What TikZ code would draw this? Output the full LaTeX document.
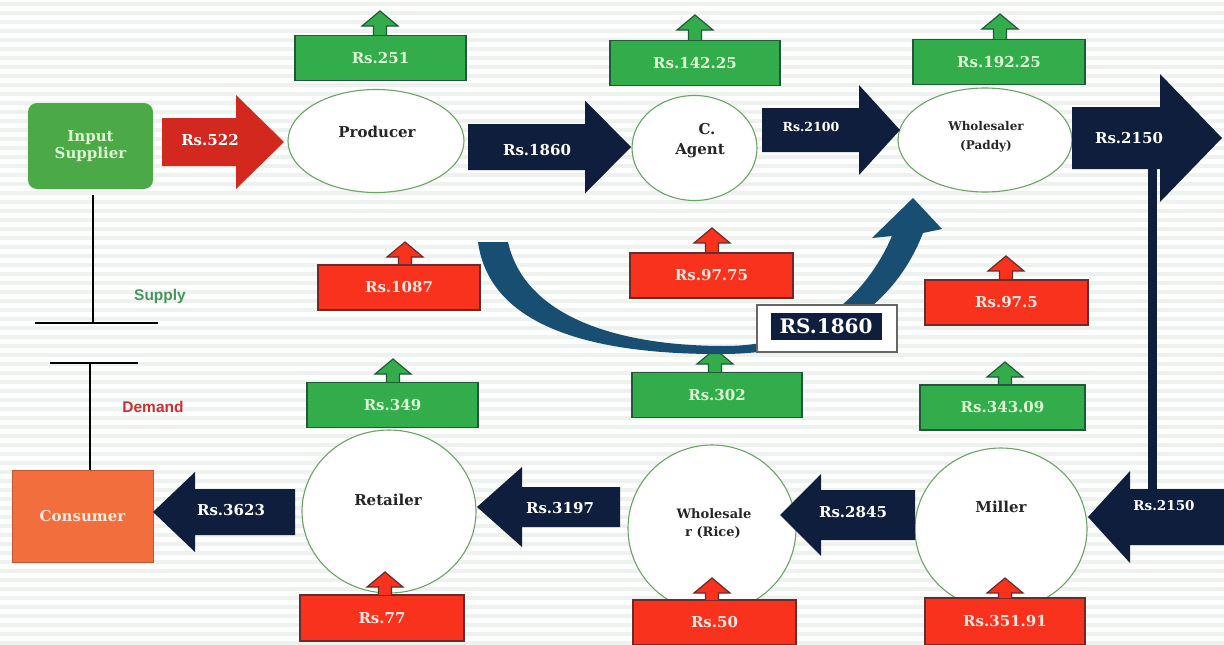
\documentclass[tikz,border=0pt]{standalone}
\usepackage{fontspec}
\setmainfont{DejaVu Serif}
\newfontfamily\labelsans{Liberation Sans}
\usetikzlibrary{shapes.geometric}

\definecolor{navy}{HTML}{0E1E3C}
\definecolor{curveblue}{HTML}{194E73}
\definecolor{boxgreen}{HTML}{33AD4C}
\definecolor{boxgreenline}{HTML}{22583A}
\definecolor{boxred}{HTML}{F8321C}
\definecolor{boxredline}{HTML}{6A2B2B}
\definecolor{supgreen}{HTML}{4BA948}
\definecolor{arrred}{HTML}{D2281E}
\definecolor{consorange}{HTML}{F26E3C}
\definecolor{ringgreen}{HTML}{6AA464}
\definecolor{gtext}{HTML}{DDF6D2}
\definecolor{rtext}{HTML}{FFE9E0}
\definecolor{stripe}{HTML}{EDF2EE}
\definecolor{supplytext}{HTML}{46965A}
\definecolor{demandtext}{HTML}{C83232}

\tikzset{
  lbl/.style={font=\fontsize{15}{17}\selectfont\bfseries, inner sep=0pt, align=center},
  smalllbl/.style={font=\fontsize{12.5}{15}\selectfont\bfseries, inner sep=0pt, align=center},
  gbox/.style={rectangle, fill=boxgreen, draw=boxgreenline, line width=1.6pt,
    minimum width=170pt, minimum height=45pt, lbl, text=gtext},
  rbox/.style={rectangle, fill=boxred, draw=boxredline, line width=1.6pt,
    minimum width=162pt, minimum height=45pt, lbl, text=rtext},
  actor/.style={ellipse, fill=white, draw=ringgreen, line width=1.1pt, inner sep=0pt},
  arrowtext/.style={lbl, text=white},
  link/.style={draw=black, line width=2pt},
}

% block arrow: tail x, head-base x, tip x, centre y, shaft half, head half, colour
\newcommand\flowarrow[7]{%
  \fill[#7] (#1,#4-#5) -- (#2,#4-#5) -- (#2,#4-#6) -- (#3,#4)
    -- (#2,#4+#6) -- (#2,#4+#5) -- (#1,#4+#5) -- cycle;}
% small upward marker: x, base y, tip y, fill, outline
\newcommand\upmark[5]{%
  \filldraw[fill=#4, draw=#5, line width=1.2pt, line join=miter]
    (#1-6.5,#2) -- (#1-6.5,#3+15) -- (#1-18,#3+15) -- (#1,#3)
    -- (#1+18,#3+15) -- (#1+6.5,#3+15) -- (#1+6.5,#2);}

\begin{document}
\begin{tikzpicture}[x=1pt,y=-1pt]
\useasboundingbox (0,0) rectangle (1224,645);
% striped backdrop
\fill[white] (0,0) rectangle (1224,645);
\foreach \yy in {4,13,...,645} \draw[stripe, line width=4pt] (0,\yy) -- (1224,\yy);

% supply / demand symbol
\coordinate (s1) at (93,195);
\coordinate (s2) at (93,323);
\coordinate (s3) at (35,323);
\coordinate (s4) at (158,323);
\coordinate (d1) at (50,363);
\coordinate (d2) at (138,363);
\coordinate (d3) at (90,363);
\coordinate (d4) at (90,470);
\draw[link] (s1) -- (s2);
\draw[link] (s3) -- (s4);
\draw[link] (d1) -- (d2);
\draw[link] (d3) -- (d4);
\node[font=\labelsans\fontsize{15.5}{17}\selectfont\bfseries, text=supplytext] (supply) at (160,296) {Supply};
\node[font=\labelsans\fontsize{15.5}{17}\selectfont\bfseries, text=demandtext] (demand) at (153,407) {Demand};

% end points
\node[rectangle, rounded corners=9pt, fill=supgreen, minimum width=125pt, minimum height=86pt,
  lbl, text=gtext] (inp) at (90.5,146) {Input\\Supplier};
\node[rectangle, fill=consorange, draw=consorange!80!black, line width=0.8pt,
  minimum width=141pt, minimum height=92pt, lbl, text=rtext] (cons) at (82.5,516) {Consumer};

% market actors
\node[actor, minimum width=176pt, minimum height=103pt] (prod) at (376,141) {};
\node[actor, minimum width=125pt, minimum height=105pt] (agent) at (694.5,148) {};
\node[actor, minimum width=174pt, minimum height=104pt] (wpad) at (985,140) {};
\node[actor, minimum width=172pt, minimum height=162pt] (mill) at (1001,529) {};
\node[actor, minimum width=168pt, minimum height=167pt] (wric) at (712,528.5) {};
\node[actor, minimum width=174pt, minimum height=163pt] (ret) at (389,511.5) {};

\node[lbl, text=black!85] at (377,132) {Producer};
\node[lbl, text=black!85] at (707,129) {C.};
\node[lbl, text=black!85] at (700,151) {Agent};
\node[smalllbl, text=black!85, font=\fontsize{12}{14.5}\selectfont\bfseries] at (986,126) {Wholesaler};
\node[smalllbl, text=black!85, font=\fontsize{12}{14.5}\selectfont\bfseries] at (986,146) {(Paddy)};
\node[lbl, text=black!85] at (1001,507) {Miller};
\node[smalllbl, text=black!85, font=\fontsize{13}{15}\selectfont\bfseries] at (714,514) {Wholesale};
\node[smalllbl, text=black!85, font=\fontsize{13}{15}\selectfont\bfseries] at (713,533) {r (Rice)};
\node[lbl, text=black!85] at (388,500) {Retailer};

% margin boxes above the actors
\upmark{380}{37}{11}{boxgreen}{boxgreenline}
\node[gbox, minimum width=171pt] (m1) at (380.5,58) {Rs.251};
\upmark{695}{41}{15}{boxgreen}{boxgreenline}
\node[gbox] (m2) at (695,63) {Rs.142.25};
\upmark{1000}{40}{14}{boxgreen}{boxgreenline}
\node[gbox, minimum width=172pt] (m3) at (999,62) {Rs.192.25};
\upmark{1005}{385}{362}{boxgreen}{boxgreenline}
\node[gbox, minimum width=165pt] (m4) at (1002.5,407.5) {Rs.343.09};
\upmark{715}{372}{349}{boxgreen}{boxgreenline}
\node[gbox] (m5) at (717,395) {Rs.302};
\upmark{393}{382}{359}{boxgreen}{boxgreenline}
\node[gbox, minimum width=171pt] (m6) at (392.5,405) {Rs.349};

% cost boxes
\upmark{405}{265}{242}{boxred}{boxredline}
\node[rbox] (c1) at (399,287.5) {Rs.1087};
\upmark{712}{253}{228}{boxred}{boxredline}
\node[rbox, minimum width=163pt] (c2) at (711.5,275.5) {Rs.97.75};
\upmark{1006}{280}{256}{boxred}{boxredline}
\node[rbox, minimum width=163pt] (c3) at (1006.5,302.5) {Rs.97.5};
\node[rbox, minimum width=160pt, minimum height=47pt] (c4) at (1005,621.5) {Rs.351.91};
\upmark{1005}{598}{578}{boxred}{boxredline}
\node[rbox, minimum width=163pt] (c5) at (714.5,622.5) {Rs.50};
\upmark{712}{600}{578}{boxred}{boxredline}
\node[rbox, minimum width=164pt, minimum height=46pt] (c6) at (382,618) {Rs.77};
\upmark{385}{595}{572}{boxred}{boxredline}

% direct sale from producer to paddy wholesaler
\fill[curveblue] (478,242) .. controls (490,330) and (600,355) .. (725,354)
  .. controls (830,353) and (895,305) .. (923,233)
  -- (942,229) -- (913,198) -- (872,238) -- (892,236)
  .. controls (868,292) and (815,346) .. (725,346)
  .. controls (620,346) and (525,318) .. (508,242) -- cycle;
\node[rectangle, fill=white, draw=black!60, line width=1.2pt, minimum width=140pt,
  minimum height=47pt] (directbox) at (827,328.5) {};
\node[rectangle, fill=navy, text=white, minimum width=111pt, minimum height=27pt,
  inner sep=0pt, font=\fontsize{20}{22}\selectfont\bfseries] (direct) at (826,326) {RS.1860};

% money flow along the chain
\flowarrow{162}{236}{284}{142}{24}{47}{arrred}
\node[arrowtext] (f1) at (210,140) {Rs.522};
\flowarrow{468}{585}{631}{147}{23}{46.5}{navy}
\node[arrowtext] (f2) at (537,150) {Rs.1860};
\flowarrow{762}{859}{900}{130}{22}{45}{navy}
\node[arrowtext, font=\fontsize{12.5}{15}\selectfont\bfseries] (f3) at (811,127) {Rs.2100};
% link from paddy wholesaler down to the miller
\fill[navy] (1148,165) rectangle (1157,495);
\flowarrow{1072}{1160}{1222}{138}{31}{64}{navy}
\node[arrowtext] (f4) at (1129,138) {Rs.2150};
\flowarrow{1224}{1130}{1088}{517}{28}{46}{navy}
\node[arrowtext, font=\fontsize{13.5}{15}\selectfont\bfseries] (f5) at (1164,506) {Rs.2150};
\flowarrow{915}{821}{780}{515}{25}{41}{navy}
\node[arrowtext] (f6) at (853,512) {Rs.2845};
\flowarrow{620}{522}{477}{507}{20}{40}{navy}
\node[arrowtext] (f7) at (560,508) {Rs.3197};
\flowarrow{295}{195}{153}{512}{23}{40}{navy}
\node[arrowtext] (f8) at (231,510) {Rs.3623};
\end{tikzpicture}
\end{document}
